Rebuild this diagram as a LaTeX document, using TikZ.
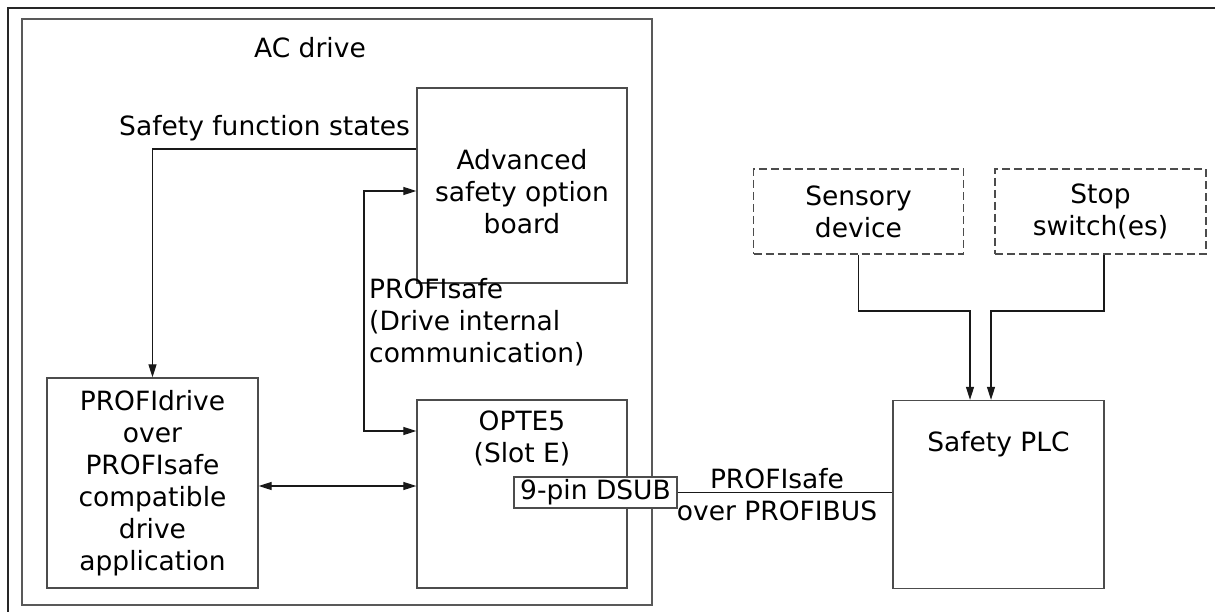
\documentclass[tikz,border=0pt]{standalone}
\usepackage{fontspec}
\setmainfont{DejaVu Sans}
\usetikzlibrary{arrows.meta,calc}
\begin{document}
\begin{tikzpicture}[x=1pt,y=-1pt,
  font=\fontsize{26.5}{32}\selectfont,
  box/.style={draw=black!70,line width=1.3pt,fill=white,align=center,inner sep=0pt},
  dbox/.style={box,draw=black!70,dash pattern=on 8pt off 4pt},
  txt/.style={inner sep=0pt,align=center},
  conn/.style={draw=black!90,line width=1.2pt},
  arr/.style={conn,-{Triangle[length=13pt,width=8pt]}},
  darr/.style={conn,{Triangle[length=13pt,width=8pt]}-{Triangle[length=13pt,width=8pt]}},
  lbl/.style={inner sep=0pt,align=left,anchor=west}
]
\useasboundingbox (0,0) rectangle (1215,612);
\clip (0,0) rectangle (1215,612);
% outer frame
\draw[line width=1.4pt,draw=black!85] (8,640) -- (8,8) -- (1240,8);
% AC drive frame
\node[box,draw=black!65,fill=none,minimum width=630pt,minimum height=586pt] (ac) at (337,312) {};
\node[txt] (actitle) at (310,48) {AC drive};
% boxes
\node[box,minimum width=210pt,minimum height=195pt] (adv) at (522,185.5) {};
\node[txt] (advl) at (522,192) {Advanced\\safety option\\board};
\node[box,minimum width=210pt,minimum height=188pt] (opt) at (522,494) {};
\node[txt,anchor=north] (optl) at ([yshift=-11pt]opt.north) {OPTE5\\(Slot E)};
\node[box,minimum width=211pt,minimum height=210pt] (pdr) at (152.5,483) {PROFIdrive\\over\\PROFIsafe\\compatible\\drive\\application};
\node[box,minimum width=211pt,minimum height=188pt] (plc) at (998.5,494.5) {};
\node[txt,anchor=north] (plcl) at ([yshift=-31pt]plc.north) {Safety PLC};
\node[dbox,minimum width=210pt,minimum height=85pt] (sen) at (858.5,211.5) {Sensory\\device};
\node[dbox,minimum width=211pt,minimum height=85pt] (stp) at (1100.5,211.5) {Stop\\switch(es)};
\node[box,minimum width=163pt,minimum height=31pt] (dsub) at (595.5,492.5) {9-pin DSUB};
% labels
\node[lbl] (sfs) at (119,128) {Safety function states};
\node[lbl] (pint) at (369,322) {PROFIsafe\\(Drive internal\\communication)};
\node[txt] (pbus) at (777,495) {PROFIsafe\\over PROFIBUS};
% connectors
\draw[arr] ([yshift=36.5pt]adv.west) -| (pdr.north);
\draw[darr] ([yshift=-5.5pt]adv.west) -| (364,300) |- ([yshift=63pt]opt.west);
\coordinate (h) at (0,486);
\draw[darr] (pdr.east |- h) -- (opt.west |- h);
\draw[conn] (dsub.east) -- (plc.west |- dsub.east);
\draw[arr] (sen.south) |- (939,311) -| ([xshift=-28.5pt]plc.north);
\draw[arr] ([xshift=3.5pt]stp.south) |- (1040,311) -| ([xshift=-7.5pt]plc.north);
\end{tikzpicture}
\end{document}
